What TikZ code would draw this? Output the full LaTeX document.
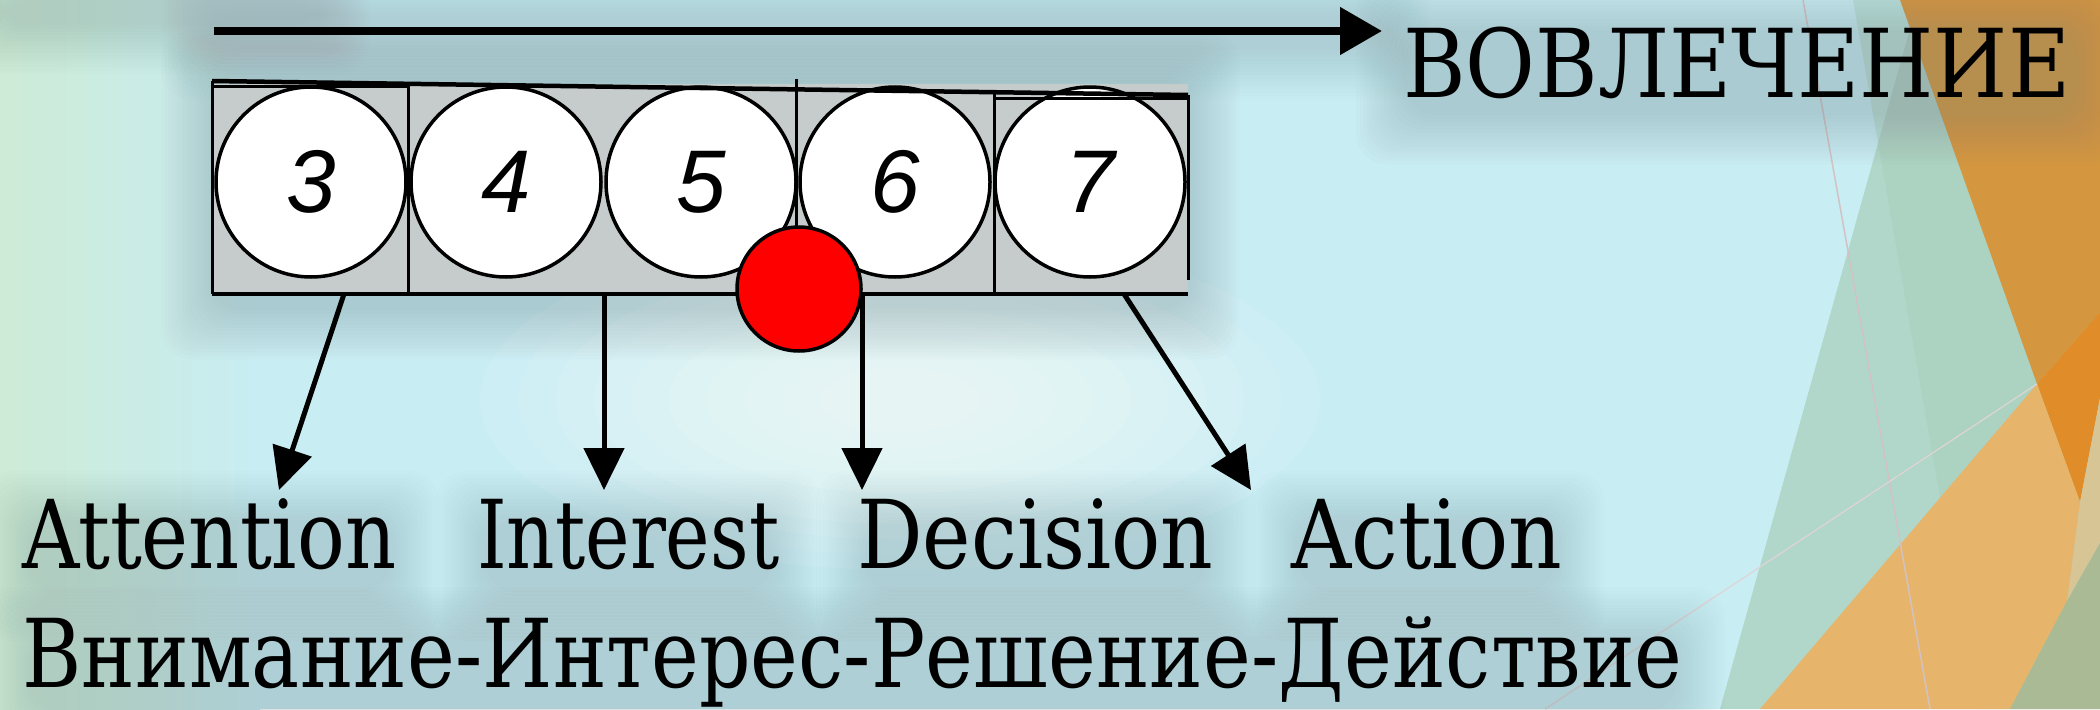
\documentclass[tikz,border=0pt]{standalone}
\usepackage{fontspec}
\setmainfont{DejaVu Serif}
\newfontfamily\tnr{DejaVu Serif}
\newfontfamily\digitfont{Liberation Sans}
\usetikzlibrary{arrows.meta}
\definecolor{bgcyan}{HTML}{C8EDF3}
\definecolor{mint}{HTML}{CDEBD6}
\definecolor{halocol}{HTML}{7F8E92}
\definecolor{sage}{HTML}{A3C9B0}
\definecolor{darkor}{HTML}{D4973F}
\definecolor{brightor}{HTML}{E08C28}
\definecolor{lightor}{HTML}{E6B46A}
\definecolor{olive}{HTML}{AABA94}
\definecolor{beige}{HTML}{D8C596}
\definecolor{cellgray}{HTML}{C6CBCB}
\definecolor{thinpink}{HTML}{D2C2C4}
\newcommand\myhalo[5]{%
  \foreach \k in {0,...,14}{%
    \fill[halocol, opacity=#5, rounded corners=30pt]
      ({#1-\k*3.5},{#2-\k*3.5}) rectangle ({#3+\k*3.5},{#4+\k*3.5});}}
\newcommand\myglow[5]{%
  \foreach \k in {0,...,9}{%
    \fill[white, opacity=#5] (#1,#2) ellipse [x radius={#3*(1-\k*0.09)}, y radius={#4*(1-\k*0.09)}];}}
\newcommand\fitw[2]{\resizebox{#1pt}{\height}{#2}}
\begin{document}
\begin{tikzpicture}[x=1pt,y=-1pt,
  numcirc/.style={circle, draw=black, line width=3.5pt, fill=white,
    minimum size=190pt, inner sep=0pt,
    font=\digitfont\itshape\fontsize{89}{89}\selectfont},
  redcirc/.style={circle, draw=black, line width=3.5pt, fill=red,
    minimum size=124pt, inner sep=0pt},
  serif/.style={inner sep=0pt, anchor=base west,
    font=\tnr\fontsize{95}{95}\selectfont},
  downarrow/.style={line width=5pt, -{Triangle[length=42pt,width=40pt]}},
  toparrow/.style={line width=8pt, -{Triangle[length=42pt,width=46pt]}},
  boxline/.style={line width=3pt},
  boxthick/.style={line width=4.5pt}]
\useasboundingbox (0,0) rectangle (2100,709);
% ---------- background ----------
\fill[bgcyan] (0,0) rectangle (2100,709);
\shade[left color=mint, right color=bgcyan] (0,0) rectangle (260,709);
\myglow{900}{400}{420}{170}{0.09}
% right side facets
\fill[sage, opacity=0.35] (1853,0) -- (1977,709) -- (2100,709) -- (2100,0) -- cycle;
\fill[sage, opacity=0.6] (1918,0) -- (1720,709) -- (2100,709) -- (2100,0) -- cycle;
\fill[darkor] (1900,0) -- (2100,0) -- (2100,312) -- (2037,384) -- cycle;
\fill[brightor] (2037,384) -- (2100,312) -- (2100,398) -- (2080,502) -- cycle;
\fill[beige] (2100,398) -- (2080,502) -- (2067,601) -- (2100,543) -- cycle;
\fill[lightor] (1760,709) -- (2037,384) -- (2080,502) -- (2067,601) -- (2010,709) -- cycle;
\fill[olive] (2010,709) -- (2067,601) -- (2100,543) -- (2100,709) -- cycle;
\draw[thinpink, line width=1.5pt] (1803,0) -- (1930,709);
\draw[thinpink!70!white, line width=1.2pt] (2037,384) -- (1545,709);
% soft shadows behind the texts and the diagram
\myhalo{0}{0}{320}{25}{0.018}
\myhalo{210}{15}{1380}{50}{0.018}
\myhalo{210}{80}{1190}{310}{0.022}
\myhalo{1405}{30}{2075}{115}{0.025}
\myhalo{30}{520}{390}{592}{0.02}
\myhalo{485}{520}{772}{592}{0.02}
\myhalo{865}{520}{1206}{592}{0.02}
\myhalo{1300}{520}{1555}{592}{0.02}
\myhalo{30}{636}{1676}{712}{0.02}
% ---------- top arrow and label ----------
\coordinate (t1) at (214,31);
\coordinate (t2) at (1382,31);
\draw[toparrow] (t1) -- (t2);
\node[serif] (vovl) at (1403,97) {\fitw{667}{ВОВЛЕЧЕНИЕ}};
% ---------- box with circles ----------
\fill[cellgray] (212,84) rectangle (1188,294);
\node[numcirc] (c3) at (311,182) {3};
\node[numcirc] (c4) at (506,182) {4};
\node[numcirc] (c5) at (701,182) {5};
\node[numcirc] (c6) at (895,182) {6};
\node[numcirc] (c7) at (1090,182) {7};
\draw[boxline] (212,81) -- (212,294);
\draw[boxline] (408,83) -- (408,294);
\draw[boxline] (796,79) -- (796,294);
\draw[boxline] (994,92) -- (994,294);
\draw[boxline] (1188,95) -- (1188,280);
\draw[boxline] (212,86) -- (408,86);
\draw[boxline] (994,98) -- (1188,98);
\draw[boxthick] (212,81) -- (1188,95);
\draw[boxthick] (212,294) -- (1188,294);
\node[redcirc] (red) at (799,289) {};
% ---------- arrows down ----------
\coordinate (a1s) at (344,294);
\coordinate (a1e) at (279,490);
\coordinate (a2s) at (604,294);
\coordinate (a2e) at (604,490);
\coordinate (a3s) at (862,296);
\coordinate (a3e) at (862,490);
\coordinate (a4s) at (1124,294);
\coordinate (a4e) at (1251,490);
\draw[downarrow] (a1s) -- (a1e);
\draw[downarrow] (a2s) -- (a2e);
\draw[downarrow] (a3s) -- (a3e);
\draw[downarrow] (a4s) -- (a4e);
% ---------- labels ----------
\node[serif] (att) at (22,568) {\fitw{374}{Attention}};
\node[serif] (int) at (477,568) {\fitw{302}{Interest}};
\node[serif] (dec) at (857,568) {\fitw{356}{Decision}};
\node[serif] (act) at (1291,568) {\fitw{271}{Action}};
\node[serif] (rus) at (22,687) {\fitw{1660}{Внимание-Интерес-Решение-Действие}};
\end{tikzpicture}
\end{document}
